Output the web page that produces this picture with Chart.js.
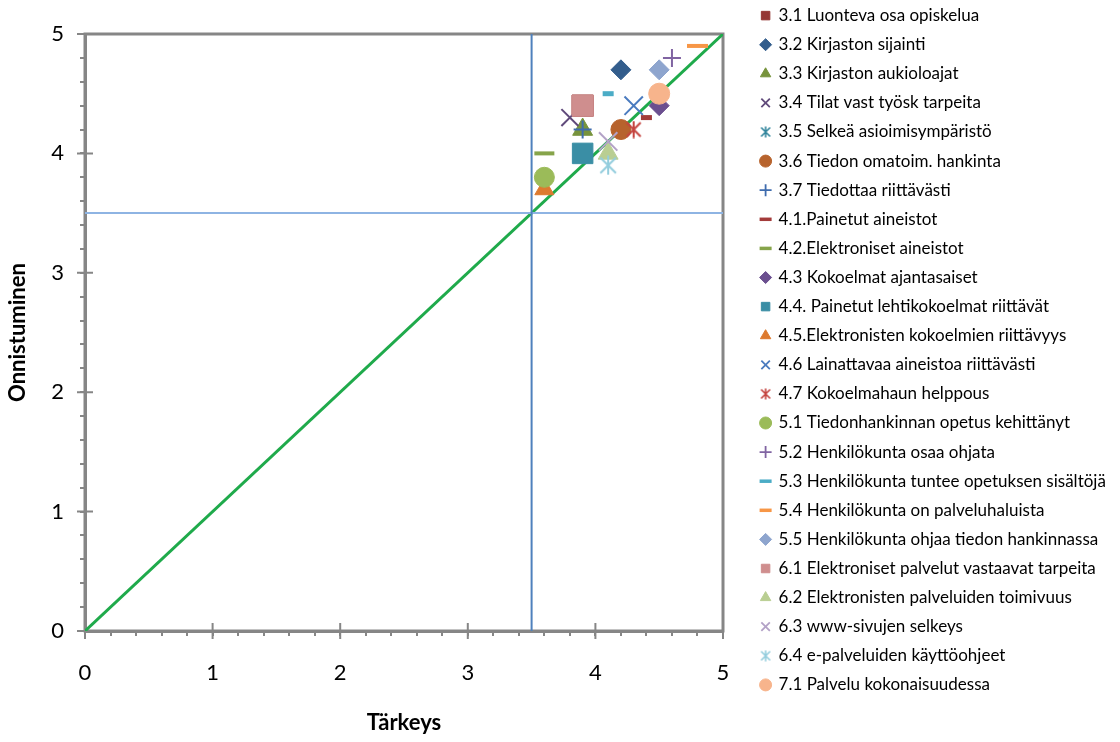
<!DOCTYPE html>
<html>
<head>
<meta charset="utf-8">
<script src="https://cdn.jsdelivr.net/npm/chart.js@4/dist/chart.umd.min.js"></script>
<style>
  html, body { margin: 0; padding: 0; background: #ffffff; }
  #wrap { width: 1120px; height: 742px; position: relative; }
</style>
</head>
<body>
<div id="wrap"><canvas id="c" width="1120" height="742"></canvas></div>
<script>
// ---- Data ----
const categories = [
  '3.1 Luonteva osa opiskelua',
  '3.2 Kirjaston sijainti',
  '3.3 Kirjaston aukioloajat',
  '3.4 Tilat vast työsk tarpeita',
  '3.5 Selkeä asioimisympäristö',
  '3.6 Tiedon omatoim. hankinta',
  '3.7 Tiedottaa riittävästi',
  '4.1.Painetut aineistot',
  '4.2.Elektroniset aineistot',
  '4.3 Kokoelmat ajantasaiset',
  '4.4. Painetut lehtikokoelmat riittävät',
  '4.5.Elektronisten kokoelmien riittävyys',
  '4.6 Lainattavaa aineistoa riittävästi',
  '4.7 Kokoelmahaun helppous',
  '5.1 Tiedonhankinnan opetus kehittänyt',
  '5.2 Henkilökunta osaa ohjata',
  '5.3 Henkilökunta tuntee opetuksen sisältöjä',
  '5.4 Henkilökunta on palveluhaluista',
  '5.5 Henkilökunta ohjaa tiedon hankinnassa',
  '6.1 Elektroniset palvelut vastaavat tarpeita',
  '6.2 Elektronisten palveluiden toimivuus',
  '6.3 www-sivujen selkeys',
  '6.4 e-palveluiden käyttöohjeet',
  '7.1 Palvelu kokonaisuudessa'
];
// Tärkeys (importance, x)
const tarkeys = [3.9, 4.2, 3.9, 3.8, 3.9, 4.2, 3.9, 4.4, 3.6, 4.5, 3.9, 3.6,
                 4.3, 4.3, 3.6, 4.6, 4.1, 4.8, 4.5, 3.9, 4.1, 4.1, 4.1, 4.5];
// Onnistuminen (success, y)
const onnistuminen = [4.4, 4.7, 4.2, 4.3, 4.0, 4.2, 4.2, 4.3, 4.0, 4.4, 4.0, 3.7,
                      4.4, 4.2, 3.8, 4.8, 4.5, 4.9, 4.7, 4.4, 4.0, 4.1, 3.9, 4.5];
const xTickLabels = ['0', '1', '2', '3', '4', '5'];
const yTickLabels = ['0', '1', '2', '3', '4', '5'];
const axisMin = 0;
const axisMax = 5;
const thresholdX = 3.5;
const thresholdY = 3.5;

// ---- Styles ----
const colors = ['#953735', '#335D8C', '#77933C', '#604A7B', '#31859C', '#B7632D',
  '#3F6CAE', '#A33B3A', '#86A44A', '#6B4F8F', '#3A8EA5', '#DD7A2F',
  '#4A7BBF', '#C4443F', '#9BBB59', '#8064A2', '#4BACC6', '#F79646',
  '#8EA5CE', '#CF8E8E', '#B9CE92', '#B3A2C7', '#93CDDD', '#F7B48C'];
const shapes = ['rect', 'rectRot', 'triangle', 'crossRot', 'asterisk', 'circle',
  'cross', 'line', 'line', 'rectRot', 'rect', 'triangle',
  'crossRot', 'asterisk', 'circle', 'cross', 'line', 'line',
  'rectRot', 'rect', 'triangle', 'crossRot', 'asterisk', 'circle'];
const radii = [15, 10, 11.5, 12, 9, 10, 9, 5.5, 10, 10, 14.5, 11,
               13, 9, 10, 9, 5.5, 10.5, 10, 15, 11.5, 13, 10, 10.5];
const lineWidths = [1, 1, 1, 2, 2, 1, 2, 5, 4, 1, 1, 1,
                    2, 2, 1, 2, 5, 4, 1, 1, 1, 2, 2, 1];

function makeAsterisk(color, size, lw) {
  const c = document.createElement('canvas');
  c.width = size; c.height = size;
  const g = c.getContext('2d');
  g.strokeStyle = color; g.lineWidth = lw; g.lineCap = 'butt';
  const m = size / 2, r = size / 2 - 0.5, d = r * 0.82;
  g.beginPath();
  g.moveTo(m, m - r); g.lineTo(m, m + r);
  g.moveTo(m - d, m - d); g.lineTo(m + d, m + d);
  g.moveTo(m + d, m - d); g.lineTo(m - d, m + d);
  g.stroke();
  return c;
}

const FONT = 'Lato, "Open Sans", "Liberation Sans", sans-serif';
const smallAsterisks = {};

const scatterSets = categories.map((name, i) => {
  let style = shapes[i];
  if (style === 'asterisk') {
    style = makeAsterisk(colors[i], Math.round(radii[i] * 2), 2);
    smallAsterisks[i] = makeAsterisk(colors[i], 12, 1.6);
  }
  return {
    type: 'scatter',
    label: name,
    data: [{ x: tarkeys[i], y: onnistuminen[i] }],
    pointStyle: style,
    pointRadius: radii[i],
    pointHoverRadius: radii[i],
    pointBackgroundColor: colors[i],
    pointBorderColor: colors[i],
    pointBorderWidth: lineWidths[i],
    backgroundColor: colors[i],
    borderColor: colors[i],
    order: 100 - i
  };
});

const refSets = [
  { type: 'line', label: '_vx', data: [{ x: thresholdX, y: axisMin }, { x: thresholdX, y: axisMax }],
    borderColor: '#4F81BD', borderWidth: 2, pointRadius: 0, order: 1000 },
  { type: 'line', label: '_hy', data: [{ x: axisMin, y: thresholdY }, { x: axisMax, y: thresholdY }],
    borderColor: '#8EB4E3', borderWidth: 2, pointRadius: 0, order: 1000 },
  { type: 'line', label: '_diag', data: [{ x: axisMin, y: axisMin }, { x: axisMax, y: axisMax }],
    borderColor: '#1FAA4B', borderWidth: 3, pointRadius: 0, order: 1000 }
];

const isInt = v => Math.abs(v - Math.round(v)) < 1e-6;
const LEGEND_LEFT = 749;

const framePlugin = {
  id: 'frame',
  beforeLayout(chart) {
    const lg = chart.legend;
    if (lg && !lg._patched) {
      const orig = lg.fit;
      lg.fit = function () { orig.call(this); this.width = 371; };
      lg._patched = true;
    }
  },
  afterLayout(chart) {
    const lg = chart.legend;
    if (lg) {
      const w = lg.width;
      lg.left = LEGEND_LEFT;
      lg.right = LEGEND_LEFT + w;
    }
  },
  beforeDatasetsDraw(chart) {
    const { ctx, chartArea: a, scales } = chart;
    ctx.save();
    ctx.strokeStyle = '#868686';
    ctx.lineWidth = 2;
    ctx.beginPath();
    for (let v = axisMin; v <= axisMax; v++) {
      const px = scales.x.getPixelForValue(v);
      ctx.moveTo(px, a.bottom - 8); ctx.lineTo(px, a.bottom + 8);
      const py = scales.y.getPixelForValue(v);
      ctx.moveTo(a.left - 8, py); ctx.lineTo(a.left + 8, py);
    }
    ctx.stroke();
    ctx.lineWidth = 3;
    ctx.strokeRect(a.left, a.top, a.right - a.left, a.bottom - a.top);
    ctx.restore();
  }
};

new Chart(document.getElementById('c'), {
  data: { datasets: [...refSets, ...scatterSets] },
  options: {
    responsive: false,
    animation: false,
    events: [],
    layout: { padding: { top: -5, right: 0, bottom: 0, left: 0 } },
    plugins: {
      tooltip: { enabled: false },
      legend: {
        position: 'right',
        align: 'start',
        labels: {
          usePointStyle: true,
          boxWidth: 9,
          boxHeight: 8.5,
          padding: 12.1,
          color: '#000000',
          font: { family: FONT, size: 17 },
          filter: item => !String(item.text).startsWith('_'),
          sort: (a, b) => a.datasetIndex - b.datasetIndex,
          generateLabels: (chart) => {
            const items = Chart.defaults.plugins.legend.labels.generateLabels(chart);
            items.forEach(it => {
              const idx = it.datasetIndex - refSets.length;
              if (smallAsterisks[idx]) it.pointStyle = smallAsterisks[idx];
              if (shapes[idx] === 'line') it.lineWidth = 3.5;
              else if (it.lineWidth > 1.8) it.lineWidth = 1.8;
            });
            return items;
          }
        }
      }
    },
    scales: {
      x: {
        type: 'linear',
        min: axisMin, max: axisMax,
        afterFit: (s) => { s.height = 111; s.paddingRight = 397; },
        border: { color: '#868686', width: 3 },
        grid: { drawOnChartArea: false, drawTicks: true, tickLength: 5, color: '#868686', lineWidth: 2 },
        ticks: {
          stepSize: 0.2, autoSkip: false, maxRotation: 0, padding: 24,
          color: '#000000', font: { family: FONT, size: 22 },
          callback: (v) => isInt(v) ? xTickLabels[Math.round(v)] : ''
        },
        title: { display: true, text: 'Tärkeys', color: '#000000',
          font: { family: FONT, size: 22, weight: 'bold' }, padding: { top: 0, bottom: 6 } }
      },
      y: {
        type: 'linear',
        min: axisMin, max: axisMax,
        afterFit: (s) => { s.width = 85; s.paddingTop = 34; },
        border: { color: '#868686', width: 3 },
        grid: { drawOnChartArea: false, drawTicks: true, tickLength: 5, color: '#868686', lineWidth: 2 },
        ticks: {
          stepSize: 0.2, autoSkip: false, padding: 16,
          color: '#000000', font: { family: FONT, size: 22 },
          callback: (v) => isInt(v) ? yTickLabels[Math.round(v)] : ''
        },
        title: { display: true, text: 'Onnistuminen', color: '#000000',
          font: { family: FONT, size: 22, weight: 'bold' }, padding: { top: 5, bottom: 0 } }
      }
    }
  },
  plugins: [framePlugin]
});
</script>
</body>
</html>
